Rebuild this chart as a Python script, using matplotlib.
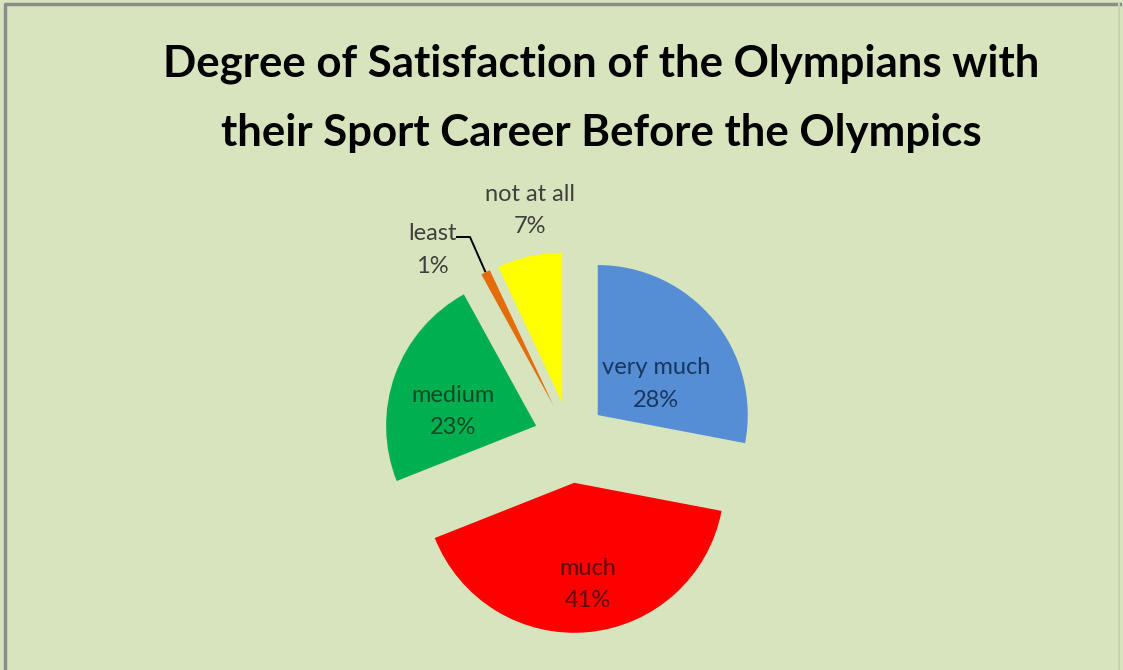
import matplotlib
matplotlib.use("Agg")
import matplotlib.pyplot as plt
import numpy as np

# Survey results
categories = ["very much", "much", "medium", "least", "not at all"]
shares = [28, 41, 23, 1, 7]
slice_colors = ["#558ED5", "#FF0000", "#00B050", "#E46C0A", "#FFFF00"]
label_colors = ["#17375E", "#5C0A0A", "#0B4A26", "#404040", "#404040"]
title_lines = ["Degree of Satisfaction of the Olympians with",
               "their Sport Career Before the Olympics"]

W, H = 1123, 670
bg = "#D7E4BD"

fig = plt.figure(figsize=(W / 100, H / 100), dpi=100, facecolor=bg)
ax = fig.add_axes([0, 0, 1, 1])
ax.set_facecolor(bg)

center = (570, H - 438)
radius = 150
explode_frac = [0.24, 0.30, 0.24, 0.24, 0.24]

wedges, _ = ax.pie(
    shares,
    colors=slice_colors,
    startangle=90,
    counterclock=False,
    explode=[f * radius for f in explode_frac],
    center=center,
    radius=radius,
    wedgeprops=dict(linewidth=0),
    frame=True,
)

ax.set_xlim(0, W)
ax.set_ylim(0, H)
ax.set_aspect("equal")
ax.axis("off")

font = "Lato"
lab_size = 17
lab_spacing = 1.7


def wedge_point(w, dist, rot=0.0):
    """Point at a fraction of the radius from a wedge's apex, turned by rot degrees."""
    mid = np.deg2rad((w.theta1 + w.theta2) / 2 + rot)
    cx, cy = w.center
    return cx + dist * radius * np.cos(mid), cy + dist * radius * np.sin(mid)


# Labels: (distance from the wedge apex as a fraction of the radius, angular tweak)
placement = {0: (0.44, -11.6), 1: (0.684, 2.3), 2: (0.562, 10.0), 4: (1.3, -3.1)}
for i, (dist, rot) in placement.items():
    x, y = wedge_point(wedges[i], dist, rot)
    ax.text(x, y, f"{categories[i]}\n{shares[i]}%", ha="center", va="center",
            fontsize=lab_size, family=font, color=label_colors[i],
            linespacing=lab_spacing)

# The thin "least" slice gets a label off to the side with a leader line
tip = wedge_point(wedges[3], 1.0)
lx, ly = 432, H - 250
ax.text(lx, ly, f"{categories[3]}\n{shares[3]}%", ha="center", va="center",
        fontsize=lab_size, family=font, color=label_colors[3],
        linespacing=lab_spacing)
ax.plot([lx + 24, lx + 38, tip[0]], [ly + 13, ly + 13, tip[1]],
        color="black", lw=1.4, solid_capstyle="butt", zorder=0.5)

# Two-line bold title
for line, base in zip(title_lines, [77, 146]):
    fig.text(601 / W, 1 - base / H, line, ha="center", va="baseline",
             fontsize=31.5, fontweight="bold", family=font, color="black")

# Chart frame
ax.plot([5, 5, W - 3], [0, H - 4, H - 4], color="#8C8C8C", lw=2.5)
ax.plot([W - 4, W - 4], [0, H - 4], color="#C9D3AE", lw=1.5)

fig.savefig("out.png", dpi=100, facecolor=bg)
